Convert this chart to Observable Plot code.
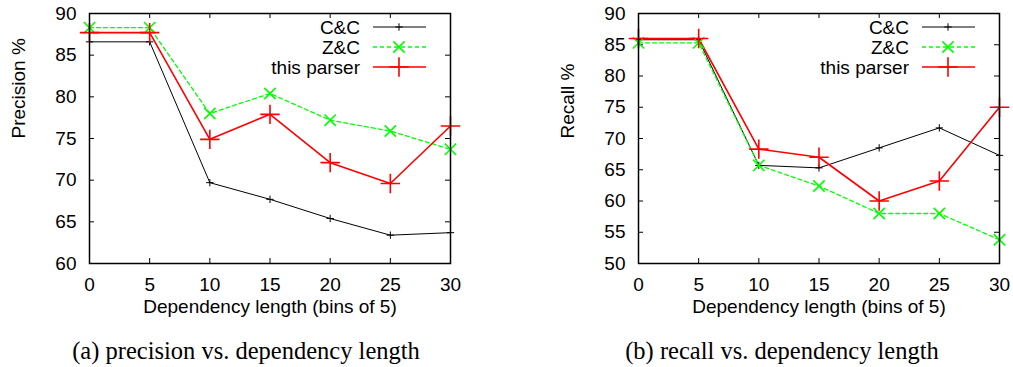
<!DOCTYPE html>
<html><head><meta charset="utf-8">
<script src="https://cdn.jsdelivr.net/npm/d3@7"></script>
<script src="https://cdn.jsdelivr.net/npm/@observablehq/plot@0.6"></script>
<style>
body{margin:0;background:#fff;}
#wrap{position:relative;width:1013px;height:367px;overflow:hidden;background:#fff;}
.panel{position:absolute;top:0;}
.cap{position:absolute;font-family:"Liberation Serif","Times New Roman",serif;font-size:24.5px;white-space:nowrap;transform:translateX(-50%);line-height:1;color:#000;}
</style></head><body><div id="wrap"></div>
<script>
// ---- data ----
const lengths = [0, 5, 10, 15, 20, 25, 30];
const precisionCC   = [86.6, 86.6, 69.7, 67.7, 65.4, 63.4, 63.7];
const precisionZC   = [88.3, 88.3, 78.0, 80.4, 77.2, 75.9, 73.7];
const precisionThis = [87.7, 87.7, 74.9, 77.9, 72.1, 69.6, 76.5];
const recallCC   = [85.8, 85.8, 65.7, 65.3, 68.5, 71.7, 67.3];
const recallZC   = [85.3, 85.3, 65.7, 62.4, 58.0, 58.0, 53.8];
const recallThis = [86.0, 86.0, 68.3, 67.0, 60.0, 63.2, 75.0];
const seriesNames = ["C&C", "Z&C", "this parser"];
const xTicks = [0, 5, 10, 15, 20, 25, 30];
const precisionTicks = [60, 65, 70, 75, 80, 85, 90];
const recallTicks = [50, 55, 60, 65, 70, 75, 80, 85, 90];
const xLabel = "Dependency length (bins of 5)";
const yLabels = ["Precision %", "Recall %"];
const captions = ["(a) precision vs. dependency length", "(b) recall vs. dependency length"];

// ---- styles ----
const styles = [
  {stroke: "#000000", strokeWidth: 1, dash: null, symbol: "plus", r: 2.5, markWidth: 1},
  {stroke: "#00ff00", strokeWidth: 1.3, dash: "4,3", symbol: "times", r: 5.2, markWidth: 1.6},
  {stroke: "#ff0000", strokeWidth: 1.6, dash: null, symbol: "plus", r: 6.3, markWidth: 1.6}
];
const FONT = "Liberation Sans, Arial, Helvetica, sans-serif";
const H = 330;

function makeChart({left, width, marginLeft, marginRight, values, yTicks, yLabel, caption, capX}) {
  const marginTop = 13, marginBottom = H - 263;
  const yDomain = [yTicks[0], yTicks[yTicks.length - 1]];
  const plotW = width - marginLeft - marginRight, plotH = H - marginTop - marginBottom;
  const tx = 5 * 30 / plotW;                         // inward tick length in x units
  const ty = 5 * (yDomain[1] - yDomain[0]) / plotH;  // inward tick length in y units
  const marks = [
    Plot.axisX(xTicks, {tickSize: 0, tickPadding: 14, fontSize: 19, label: null}),
    Plot.axisY(yTicks, {tickSize: 0, tickPadding: 13, fontSize: 19, label: null}),
    Plot.ruleX(xTicks, {x: d => d, y1: yDomain[0], y2: yDomain[0] + ty, stroke: "#000"}),
    Plot.ruleX(xTicks, {x: d => d, y1: yDomain[1] - ty, y2: yDomain[1], stroke: "#000"}),
    Plot.ruleY(yTicks, {y: d => d, x1: 0, x2: tx, stroke: "#000"}),
    Plot.ruleY(yTicks, {y: d => d, x1: 30 - tx, x2: 30, stroke: "#000"})
  ];
  values.forEach((vals, i) => {
    const s = styles[i];
    const rows = lengths.map((x, j) => ({x, y: vals[j]}));
    marks.push(Plot.line(rows, {x: "x", y: "y", stroke: s.stroke, strokeWidth: s.strokeWidth, strokeDasharray: s.dash}));
  });
  values.forEach((vals, i) => {
    const s = styles[i];
    const rows = lengths.map((x, j) => ({x, y: vals[j]}));
    marks.push(Plot.dot(rows, {x: "x", y: "y", symbol: s.symbol, r: s.r, stroke: s.stroke, strokeWidth: s.markWidth, fill: "none"}));
  });
  marks.push(Plot.frame({stroke: "#000", strokeWidth: 1.5}));
  marks.push(Plot.text([xLabel], {text: d => d, frameAnchor: "bottom", lineAnchor: "middle", dy: 43, fontSize: 19, fill: "#000"}));
  marks.push(Plot.text([yLabel], {text: d => d, frameAnchor: "left", lineAnchor: "middle", dx: -71, rotate: -90, fontSize: 19, fill: "#000"}));

  const svg = Plot.plot({
    width, height: H, marginTop, marginBottom, marginLeft, marginRight,
    x: {domain: [0, 30]}, y: {domain: yDomain},
    style: {fontFamily: FONT, fontSize: "19px", color: "#000", background: "transparent", overflow: "visible"},
    marks
  });
  const div = document.createElement("div");
  div.className = "panel";
  div.style.left = left + "px";
  div.appendChild(svg);

  // legend (top-right inside frame)
  const frameRight = width - marginRight;
  const lg = d3.select(svg).append("g").attr("font-family", FONT).attr("font-size", 19);
  seriesNames.forEach((name, i) => {
    const s = styles[i];
    const cy = 27 + i * 20;
    lg.append("text").attr("x", frameRight - 90).attr("y", cy).attr("dy", "0.35em")
      .attr("text-anchor", "end").attr("fill", "#000").text(name);
    lg.append("line").attr("x1", frameRight - 77).attr("x2", frameRight - 24).attr("y1", cy).attr("y2", cy)
      .attr("stroke", s.stroke).attr("stroke-width", s.strokeWidth).attr("stroke-dasharray", s.dash);
    lg.append("path").attr("transform", `translate(${frameRight - 51},${cy})`)
      .attr("d", d3.symbol(s.symbol === "plus" ? d3.symbolPlus : d3.symbolTimes, Math.PI * s.r * s.r)())
      .attr("fill", "none").attr("stroke", s.stroke).attr("stroke-width", s.markWidth);
  });

  const cap = document.createElement("div");
  cap.className = "cap";
  cap.style.left = capX + "px";
  cap.style.top = "339px";
  cap.textContent = caption;
  return [div, cap];
}

const wrap = document.getElementById("wrap");
makeChart({left: 0, width: 520, marginLeft: 89, marginRight: 70,
  values: [precisionCC, precisionZC, precisionThis], yTicks: precisionTicks,
  yLabel: yLabels[0], caption: captions[0], capX: 246}).forEach(n => wrap.appendChild(n));
makeChart({left: 540, width: 473, marginLeft: 98, marginRight: 14,
  values: [recallCC, recallZC, recallThis], yTicks: recallTicks,
  yLabel: yLabels[1], caption: captions[1], capX: 782}).forEach(n => wrap.appendChild(n));
</script></body></html>
